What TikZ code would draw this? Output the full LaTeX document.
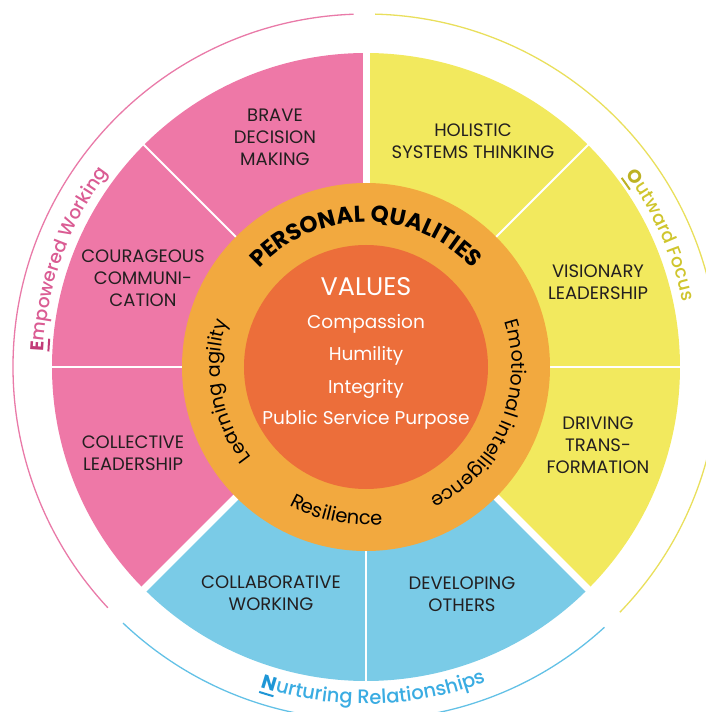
\documentclass[tikz,border=0pt]{standalone}
\usepackage{fontspec}
\setmainfont{Poppins}
\newfontfamily\medfont{Poppins Medium}
\usetikzlibrary{decorations.text}
\definecolor{pinkfill}{HTML}{EE78A7}
\definecolor{yellowfill}{HTML}{F2E95E}
\definecolor{bluefill}{HTML}{7ACBE7}
\definecolor{ringorange}{HTML}{F2A93F}
\definecolor{innerorange}{HTML}{EC6E3A}
\definecolor{pinkline}{HTML}{E97AA8}
\definecolor{yellowline}{HTML}{E9DF5C}
\definecolor{blueline}{HTML}{63C1E6}
\definecolor{pinktext}{HTML}{DA5C93}
\definecolor{pinkdark}{HTML}{C23B78}
\definecolor{yellowtext}{HTML}{CFC52E}
\definecolor{yellowdark}{HTML}{BDB224}
\definecolor{bluetext}{HTML}{3AACE2}
\definecolor{bluedark}{HTML}{1E96D6}
\definecolor{labeltext}{HTML}{231F20}
\tikzset{
  seclabel/.style={align=center, text=labeltext, inner sep=0pt, font=\fontsize{18}{22}\selectfont},
  valuetxt/.style={text=white, inner sep=0pt, anchor=base, font=\fontsize{18.5}{22}\selectfont},
  biggap/.style={white, line width=7pt},
  smallgap/.style={white, line width=2pt},
  outerarc/.style={line width=1.3pt},
  uline/.style={line width=2pt}
}
\begin{document}
\begin{tikzpicture}[x=1pt,y=1pt]
\useasboundingbox (-366,-345) rectangle (340,367);
% sectors
\fill[pinkfill] (0,0) -- (90:314) arc (90:225:314) -- cycle;
\fill[bluefill] (0,0) -- (225:314) arc (225:315:314) -- cycle;
\fill[yellowfill] (0,0) -- (-45:314) arc (-45:90:314) -- cycle;
\foreach \a in {90,225,315} \draw[biggap] (0,0) -- (\a:322);
\foreach \a in {0,45,135,180,270} \draw[smallgap] (0,0) -- (\a:322);
% rings
\fill[ringorange] (0,0) circle (184);
\fill[innerorange] (0,0) circle (122);
% outer arcs
\draw[outerarc, pinkline] (92:353) arc (92:223:353);
\draw[outerarc, blueline] (226.5:353) arc (226.5:312.5:353);
\draw[outerarc, yellowline] (316:353) arc (316:448.5:353);
% sector labels
\node[seclabel] (brave) at (-91,229.5) {BRAVE\\DECISION\\MAKING};
\node[seclabel] (courage) at (-223,89) {COURAGEOUS\\COMMUNI-\\CATION};
\node[seclabel] (collective) at (-233,-86.5) {COLLECTIVE\\LEADERSHIP};
\node[seclabel] (collab) at (-95,-226) {COLLABORATIVE\\WORKING};
\node[seclabel] (develop) at (96,-227) {DEVELOPING\\OTHERS};
\node[seclabel] (driving) at (232,-78.5) {DRIVING\\TRANS-\\FORMATION};
\node[seclabel] (vision) at (232,85) {VISIONARY\\LEADERSHIP};
\node[seclabel] (holistic) at (107,226) {HOLISTIC\\SYSTEMS THINKING};
% values
\node[valuetxt, font=\fontsize{25.5}{26}\selectfont] (values) at (0,71) {VALUES};
\node[valuetxt] (comp) at (0,38) {Compassion};
\node[valuetxt] (hum) at (0,6) {Humility};
\node[valuetxt] (integ) at (0,-26) {Integrity};
\node[valuetxt] (psp) at (0,-57) {Public Service Purpose};
% ring texts
\path[decorate, decoration={text along path, text align=center,
  text={|\fontsize{23}{23}\selectfont\bfseries|PERSONAL QUALITIES}}]
  (141:145) arc (141:39:145);
\path[decorate, decoration={text along path, text align=center,
  text={|\fontsize{19}{19}\selectfont|Learning agility}}]
  (230:146) arc (230:150:146);
\path[decorate, decoration={text along path, text align=center,
  text={|\fontsize{19}{19}\selectfont|Emotional intelligence}}]
  (25:146) arc (25:-71:146);
\path[decorate, decoration={text along path, text align=center,
  text={|\fontsize{19.5}{19.5}\selectfont|Resilience}}]
  (228:158) arc (228:289:158);
% outer labels
\path[decorate, decoration={text along path,
  text={|\fontsize{18.5}{18.5}\selectfont\bfseries\color{pinkdark}|E|\medfont\fontsize{18.5}{18.5}\selectfont\color{pinktext}|mpowered Working}}]
  (177.2:323) arc (177.2:110:323);
\draw[uline, pinkdark] (177.2:318) arc (177.2:174.9:318);
\path[decorate, decoration={text along path,
  text={|\fontsize{18.5}{18.5}\selectfont\bfseries\color{yellowdark}|O|\medfont\fontsize{18.5}{18.5}\selectfont\color{yellowtext}|utward Focus}}]
  (36.5:323) arc (36.5:-20:323);
\draw[uline, yellowdark] (36.5:318) arc (36.5:33.9:318);
\path[decorate, decoration={text along path,
  text={|\fontsize{19.5}{19.5}\selectfont\bfseries\color{bluedark}|N|\medfont\fontsize{19.5}{19.5}\selectfont\color{bluetext}|urturing Relationships}}]
  (251.8:337) arc (251.8:310:337);
\draw[uline, bluedark] (251.8:342) arc (251.8:254.3:342);
\end{tikzpicture}
\end{document}
